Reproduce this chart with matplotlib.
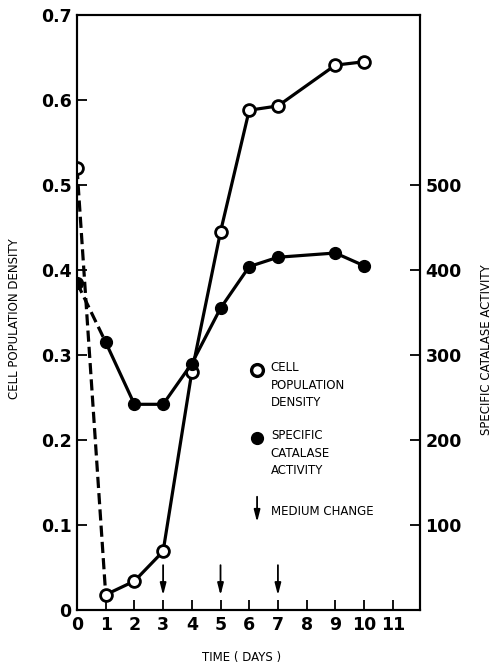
import matplotlib
matplotlib.use('Agg')
import matplotlib.pyplot as plt

# days and measured values
days = [0, 1, 2, 3, 4, 5, 6, 7, 9, 10]
cell_density = [0.52, 0.018, 0.034, 0.069, 0.28, 0.445, 0.588, 0.593, 0.641, 0.645]
catalase = [385, 315, 242, 242, 290, 355, 404, 415, 420, 405]
medium_change_days = [3, 5, 7]

x_ticks = list(range(0, 12))
left_ticks = [0, 0.1, 0.2, 0.3, 0.4, 0.5, 0.6, 0.7]
left_labels = ['0', '0.1', '0.2', '0.3', '0.4', '0.5', '0.6', '0.7']
right_ticks = [100, 200, 300, 400, 500]

plt.rcParams['font.family'] = 'DejaVu Sans'

fig = plt.figure(figsize=(4.93, 6.70), dpi=100)
ax = fig.add_axes([77 / 493, 60 / 670, 343 / 493, 595 / 670])
ax2 = ax.twinx()

ax.set_xlim(0, 11.95)
ax.set_ylim(0, 0.7)
ax2.set_ylim(0, 700)

lw = 2.3
ms = 8.5

# dashed first segment (day 0 -> day 1), solid afterwards
ax.plot(days[:2], cell_density[:2], color='black', lw=lw, ls=(0, (3.5, 1.6)), zorder=3)
ax.plot(days[1:], cell_density[1:], color='black', lw=lw, zorder=3)
ax.plot(days, cell_density, ls='none', marker='o', ms=ms, mfc='white', mec='black', mew=2.0, zorder=5)

ax2.plot(days[:2], catalase[:2], color='black', lw=lw, ls=(0, (3.5, 1.6)), zorder=3)
ax2.plot(days[1:], catalase[1:], color='black', lw=lw, zorder=3)
ax2.plot(days, catalase, ls='none', marker='o', ms=ms, mfc='black', mec='black', zorder=5)

# medium change arrows
for d in medium_change_days:
    ax.annotate('', xy=(d, 0.014), xytext=(d, 0.056),
                arrowprops=dict(arrowstyle='-|>,head_width=0.18,head_length=0.7',
                                color='black', lw=1.3))

# ticks
ax.set_xticks(x_ticks)
ax.set_xticklabels([str(t) for t in x_ticks])
ax.set_yticks(left_ticks)
ax.set_yticklabels(left_labels)
ax2.set_yticks(right_ticks)
ax2.set_yticklabels([str(t) for t in right_ticks])

ax.tick_params(axis='both', direction='in', length=7, width=1.3, labelsize=12.5, pad=4)
ax2.tick_params(axis='y', direction='in', length=7, width=1.3, labelsize=12.5, pad=4)
for lab in ax.get_xticklabels() + ax.get_yticklabels() + ax2.get_yticklabels():
    lab.set_fontweight('bold')

for a in (ax, ax2):
    for s in a.spines.values():
        s.set_linewidth(1.5)

# legend drawn by hand
ax.plot([0.525], [0.403], transform=ax.transAxes, marker='o', ms=ms, mfc='white',
        mec='black', mew=2.4, clip_on=False)
ax.plot([0.525], [0.289], transform=ax.transAxes, marker='o', ms=ms, mfc='black',
        mec='black', clip_on=False)
ax.annotate('', xy=(0.525, 0.143), xytext=(0.525, 0.195), xycoords='axes fraction',
            arrowprops=dict(arrowstyle='-|>,head_width=0.18,head_length=0.7',
                            color='black', lw=1.3))
legend_font = dict(fontsize=8.5, va='top', ha='left', linespacing=1.45, transform=ax.transAxes)
ax.text(0.565, 0.418, 'CELL\nPOPULATION\nDENSITY', **legend_font)
ax.text(0.565, 0.304, 'SPECIFIC\nCATALASE\nACTIVITY', **legend_font)
ax.text(0.565, 0.176, 'MEDIUM CHANGE', **legend_font)

# axis titles
fig.text(15 / 493, 1 - 319 / 670, 'CELL POPULATION DENSITY', rotation=90,
         ha='center', va='center', fontsize=8.5)
fig.text(487 / 493, 1 - 350 / 670, 'SPECIFIC CATALASE ACTIVITY', rotation=90,
         ha='center', va='center', fontsize=8.5)
fig.text(242 / 493, 1 - 658 / 670, 'TIME ( DAYS )', ha='center', va='center', fontsize=8.5)

plt.savefig('out.png', dpi=100)
plt.close()
